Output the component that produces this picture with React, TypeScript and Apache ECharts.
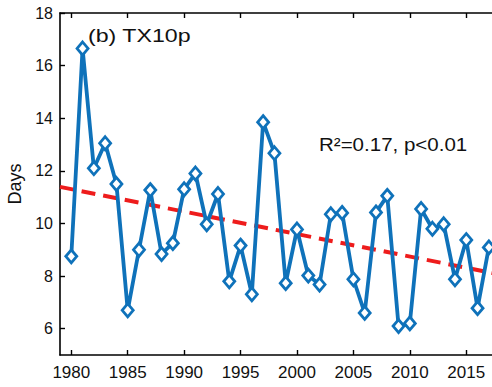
import React, { useEffect, useRef } from "react";
import * as echarts from "echarts";

const years = [
  1980, 1981, 1982, 1983, 1984, 1985, 1986, 1987, 1988, 1989,
  1990, 1991, 1992, 1993, 1994, 1995, 1996, 1997, 1998, 1999,
  2000, 2001, 2002, 2003, 2004, 2005, 2006, 2007, 2008, 2009,
  2010, 2011, 2012, 2013, 2014, 2015, 2016, 2017,
];
const tx10p = [
  8.75, 16.65, 12.1, 13.05, 11.5, 6.7, 9.0, 11.27, 8.84, 9.25,
  11.3, 11.9, 9.97, 11.12, 7.8, 9.16, 7.31, 13.85, 12.67, 7.73,
  9.77, 8.02, 7.68, 10.35, 10.4, 7.88, 6.6, 10.42, 11.05, 6.1,
  6.2, 10.55, 9.8, 9.97, 7.88, 9.37, 6.78, 9.09,
];
const trendYears = [1979, 2018];
const trendValues = [11.39, 8.06];
const xTicks = [1980, 1985, 1990, 1995, 2000, 2005, 2010, 2015];
const yTicks = [6, 8, 10, 12, 14, 16, 18];
const titleText = "(b) TX10p";
const statText = "R\u00B2=0.17, p<0.01";
const yName = "Days";

const FONT = "'Liberation Sans', Arial, Helvetica, sans-serif";

export default function App() {
  const ref = useRef<HTMLDivElement>(null);
  useEffect(() => {
    if (!ref.current) return;
    const chart = echarts.init(ref.current, null, { renderer: "svg" });
    const axisLine = { show: true, lineStyle: { color: "#000", width: 1.6 } };
    chart.setOption({
      animation: false,
      backgroundColor: "#fff",
      textStyle: { fontFamily: FONT },
      grid: { left: 60, right: 0, top: 13, bottom: 32, containLabel: false, outerBoundsMode: "none" },
      xAxis: [
        {
          type: "value",
          min: 1979,
          max: 2017.28,
          position: "bottom",
          axisLine,
          axisTick: { show: true, inside: true, length: 5, customValues: xTicks, lineStyle: { color: "#000", width: 1.4 } },
          axisLabel: { customValues: xTicks, color: "#111", fontSize: 17, margin: 9, fontFamily: FONT, formatter: (v: number) => String(v) },
          splitLine: { show: false },
        },
        {
          type: "value",
          min: 1979,
          max: 2017.28,
          position: "top",
          axisLine,
          axisTick: { show: true, inside: true, length: 5, customValues: xTicks, lineStyle: { color: "#000", width: 1.4 } },
          axisLabel: { show: false },
          splitLine: { show: false },
        },
      ],
      yAxis: {
        type: "value",
        min: 5,
        max: 18,
        name: yName,
        nameLocation: "middle",
        nameGap: 36,
        nameRotate: 90,
        nameTextStyle: { fontSize: 18, color: "#111", fontFamily: FONT },
        axisLine,
        axisTick: { show: true, inside: true, length: 5, customValues: yTicks, lineStyle: { color: "#000", width: 1.4 } },
        axisLabel: { customValues: yTicks, color: "#111", fontSize: 16, margin: 7, fontFamily: FONT },
        splitLine: { show: false },
      },
      graphic: [
        {
          type: "text",
          x: 88,
          y: 35,
          scaleX: 1.22,
          style: { text: titleText, fontSize: 19, fill: "#111", fontFamily: FONT, verticalAlign: "middle" },
        },
        {
          type: "text",
          x: 319,
          y: 144,
          scaleX: 1.08,
          style: { text: statText, fontSize: 19, fill: "#111", fontFamily: FONT, verticalAlign: "middle" },
        },
      ],
      series: [
        {
          type: "line",
          data: trendYears.map((y, i) => [y, trendValues[i]]),
          symbol: "none",
          lineStyle: { color: "#EE1C1C", width: 4, type: [14, 8] },
          z: 1,
          silent: true,
        },
        {
          type: "line",
          data: years.map((y, i) => [y, tx10p[i]]),
          symbol: "diamond",
          symbolSize: [11, 13],
          clip: false,
          lineStyle: { color: "#0F72BA", width: 3.8 },
          itemStyle: { color: "#fff", borderColor: "#0F72BA", borderWidth: 2.8 },
          z: 2,
        },
      ],
    });
    return () => chart.dispose();
  }, []);
  return (
    <div style={{ position: "fixed", left: 0, top: 0, width: 492, height: 387, overflow: "hidden", background: "#fff" }}>
      <div ref={ref} style={{ width: 492, height: 387 }} />
    </div>
  );
}
